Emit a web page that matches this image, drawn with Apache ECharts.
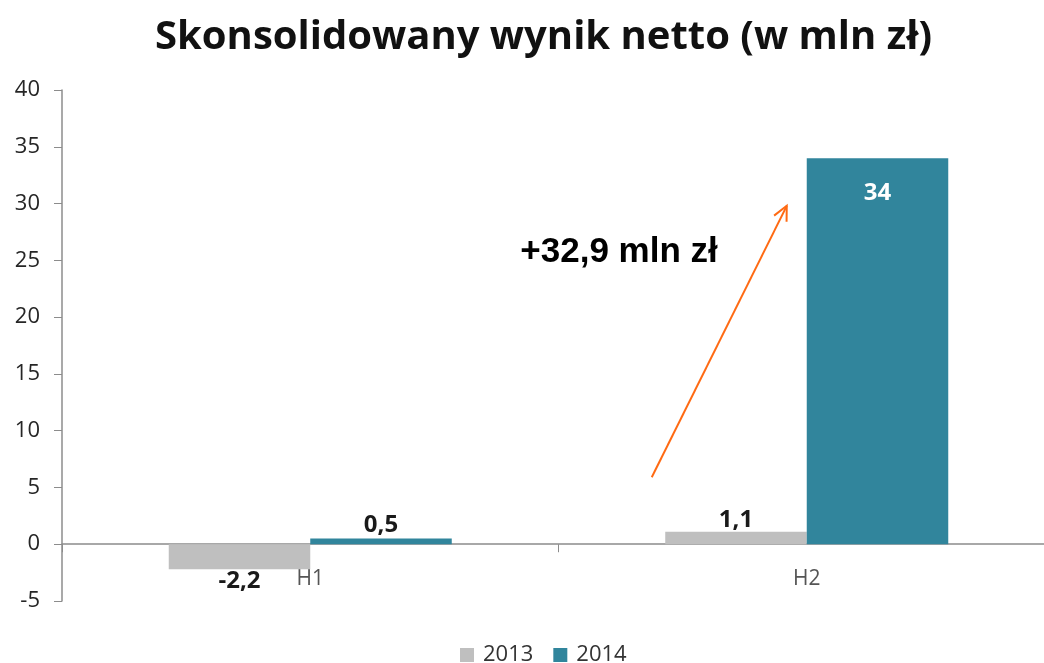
<!DOCTYPE html>
<html>
<head>
<meta charset="utf-8">
<script src="https://cdn.jsdelivr.net/npm/echarts@6/dist/echarts.min.js"></script>
<style>
  html, body { margin: 0; padding: 0; background: #fff; }
  #chart { width: 1044px; height: 663px; }
</style>
</head>
<body>
<div id="chart"></div>
<script>
/* ---------------- DATA ---------------- */

const CATEGORIES = ["H1", "H2"];
const SERIES_NAMES = ["2013", "2014"];
const VALUES_2013 = [-2.2, 1.1];
const VALUES_2014 = [0.5, 34];
const Y_TICKS = { min: -5, max: 40, step: 5 };
const ANNOTATION = "+32,9 mln zł";

const COLORS = ["#BFBFBF", "#31859C"];

const fmt = (v) => String(v).replace(".", ",");

/* ---------------- CHART ---------------- */

const chart = echarts.init(document.getElementById("chart"));

const labelBase = {
    show: true,
    fontFamily: "Open Sans",
    fontWeight: "bold",
    fontSize: 24,
    color: "#1a1a1a",
    formatter: (p) => fmt(p.value),
};

const option = {
    animation: false,
    title: {
        text: "Skonsolidowany wynik netto (w mln zł)",
        left: 150,
        top: 13,
        textStyle: {
            fontFamily: "Open Sans",
            fontWeight: "bold",
            fontSize: 40,
            color: "#111",
        },
    },
    legend: {
        bottom: -8,
        left: 455,
        itemWidth: 14,
        itemHeight: 14,
        itemGap: 20,
        icon: "rect",
        textStyle: {
            fontFamily: "Open Sans",
            fontSize: 22,
            color: "#333",
            padding: [0, 0, 0, 4],
        },
        data: SERIES_NAMES,
    },
    grid: {
        left: 62,
        top: 90,
        width: 993,
        bottom: 62,
        containLabel: false,
        outerBoundsMode: "none",
    },
    xAxis: {
        type: "category",
        data: CATEGORIES,
        axisLine: { onZero: true, lineStyle: { color: "#8c8c8c", width: 1.5 } },
        axisTick: { show: true, length: 8, lineStyle: { color: "#8c8c8c" } },
        axisLabel: {
            margin: -32,
            fontFamily: "Open Sans",
            fontSize: 21,
            color: "#555",
        },
    },
    yAxis: {
        type: "value",
        min: Y_TICKS.min,
        max: Y_TICKS.max,
        interval: Y_TICKS.step,
        splitLine: { show: false },
        axisLine: { show: true, lineStyle: { color: "#8c8c8c", width: 1.5 } },
        axisTick: { show: true, length: 8, lineStyle: { color: "#8c8c8c" } },
        axisLabel: {
            margin: 22,
            fontFamily: "Open Sans",
            fontSize: 22,
            color: "#262626",
        },
    },
    series: [
        {
            name: SERIES_NAMES[0],
            type: "bar",
            data: VALUES_2013.map((v) => ({
                value: v,
                label: { position: v < 0 ? "bottom" : "top", distance: 0 },
            })),
            itemStyle: { color: COLORS[0] },
            barGap: "0%",
            barCategoryGap: "43%",
            label: labelBase,
        },
        {
            name: SERIES_NAMES[1],
            type: "bar",
            data: VALUES_2014.map((v) => ({
                value: v,
                label: v > 10
                    ? { position: "insideTop", color: "#fff", distance: 23 }
                    : { position: "top", distance: 1 },
            })),
            itemStyle: { color: COLORS[1] },
            label: labelBase,
        },
    ],
};

chart.setOption(option);

/* ---------------- ANNOTATION ---------------- */

function drawAnnotation() {
    const h2 = chart.convertToPixel({ xAxisIndex: 0 }, "H2");
    const yStart = chart.convertToPixel({ yAxisIndex: 0 }, 5.9);
    const yEnd = chart.convertToPixel({ yAxisIndex: 0 }, 29.8);
    const yText = chart.convertToPixel({ yAxisIndex: 0 }, 25.7);
    const x0 = h2 - 155, x1 = h2 - 20;
    const ang = Math.atan2(yEnd - yStart, x1 - x0);
    const head = 16, spread = 0.45;
    const hx1 = x1 - head * Math.cos(ang - spread);
    const hy1 = yEnd - head * Math.sin(ang - spread);
    const hx2 = x1 - head * Math.cos(ang + spread);
    const hy2 = yEnd - head * Math.sin(ang + spread);

    chart.setOption({
        graphic: [
            {
                type: "line",
                shape: { x1: x0, y1: yStart, x2: x1, y2: yEnd },
                style: { stroke: "#FF6A13", lineWidth: 2 },
            },
            {
                type: "polyline",
                shape: { points: [[hx1, hy1], [x1, yEnd], [hx2, hy2]] },
                style: { stroke: "#FF6A13", lineWidth: 2, fill: null },
            },
            {
                type: "text",
                x: h2 - 89,
                y: yText,
                style: {
                    text: ANNOTATION,
                    font: "bold 35px 'Liberation Sans', Arial, sans-serif",
                    fill: "#000",
                    align: "right",
                    verticalAlign: "middle",
                },
            },
        ],
    });
}

drawAnnotation();
window.addEventListener("resize", () => { chart.resize(); drawAnnotation(); });
</script>
</body>
</html>
